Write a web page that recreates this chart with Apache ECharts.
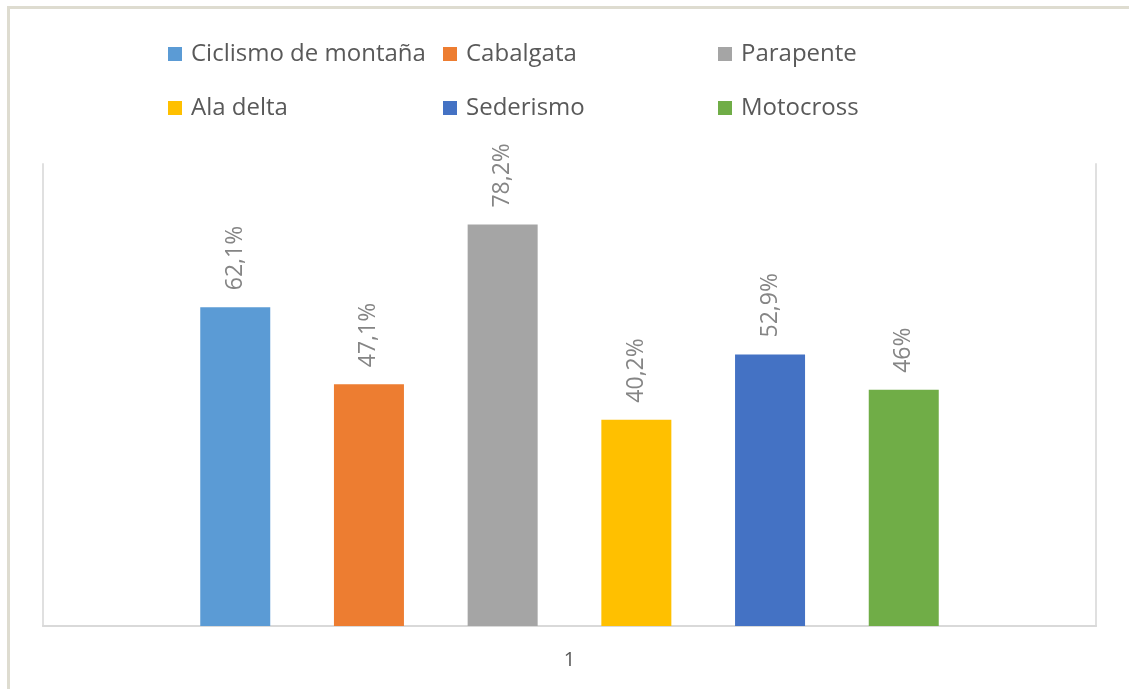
<!DOCTYPE html>
<html>
<head>
<meta charset="utf-8">
<script src="https://cdn.jsdelivr.net/npm/echarts@6/dist/echarts.min.js"></script>
<style>
  html, body { margin: 0; padding: 0; background: #fff; }
  #main { width: 1129px; height: 689px; }
</style>
</head>
<body>
<div id="main"></div>
<script>
var categories = ['1'];
var seriesNames = ['Ciclismo de montaña', 'Cabalgata', 'Parapente', 'Ala delta', 'Sederismo', 'Motocross'];
var seriesValues = [62.1, 47.1, 78.2, 40.2, 52.9, 46];
var seriesColors = ['#5b9bd5', '#ed7d31', '#a5a5a5', '#ffc000', '#4472c4', '#70ad47'];

// legend laid out in 3 columns of 2 rows, like the Excel original
var legendCols = [
  { left: 163, data: [seriesNames[0], seriesNames[3]] },
  { left: 438, data: [seriesNames[1], seriesNames[4]] },
  { left: 713, data: [seriesNames[2], seriesNames[5]] }
];

var font = '"Open Sans", "Noto Sans", sans-serif';

function pct(v) {
  return String(v).replace('.', ',') + '%';
}

var myChart = echarts.init(document.getElementById('main'));

var series = seriesNames.map(function (name, i) {
  return {
    name: name,
    type: 'bar',
    data: [seriesValues[i]],
    barWidth: 70,
    barGap: '91%',
    itemStyle: { color: seriesColors[i] },
    label: {
      show: true,
      position: 'top',
      rotate: 90,
      align: 'left',
      verticalAlign: 'middle',
      distance: 17,
      color: '#858585',
      fontSize: 23,
      fontFamily: font,
      formatter: function (p) { return pct(p.value); }
    }
  };
});

myChart.setOption({
  animation: false,
  backgroundColor: '#fff',
  color: seriesColors,
  graphic: [{
    type: 'rect',
    shape: { x: 8.5, y: 7.5, width: 1300, height: 900 },
    style: { fill: null, stroke: '#dedcd0', lineWidth: 3 },
    silent: true
  }],
  legend: legendCols.map(function (c) {
    return {
      orient: 'vertical',
      left: c.left,
      top: 37,
      data: c.data,
      icon: 'rect',
      itemWidth: 14,
      itemHeight: 14,
      itemGap: 30,
      selectedMode: false,
      textStyle: {
        color: '#595959',
        fontSize: 24,
        fontFamily: font,
        padding: [0, 0, 0, 4]
      }
    };
  }),
  grid: { left: 43, right: 33, top: 164, bottom: 63 },
  xAxis: {
    type: 'category',
    data: categories,
    axisLine: { show: true, lineStyle: { color: '#d9d9d9', width: 2 } },
    axisTick: { show: false },
    axisLabel: { color: '#595959', fontSize: 20, fontFamily: font, margin: 24 }
  },
  yAxis: [{
    type: 'value',
    min: 0,
    max: 90,
    axisLine: { show: true, lineStyle: { color: '#e0e0e0', width: 2 } },
    axisTick: { show: false },
    axisLabel: { show: false },
    splitLine: { show: false }
  }, {
    type: 'value',
    position: 'right',
    min: 0,
    max: 90,
    axisLine: { show: true, lineStyle: { color: '#e0e0e0', width: 2 } },
    axisTick: { show: false },
    axisLabel: { show: false },
    splitLine: { show: false }
  }],
  series: series
});
</script>
</body>
</html>
